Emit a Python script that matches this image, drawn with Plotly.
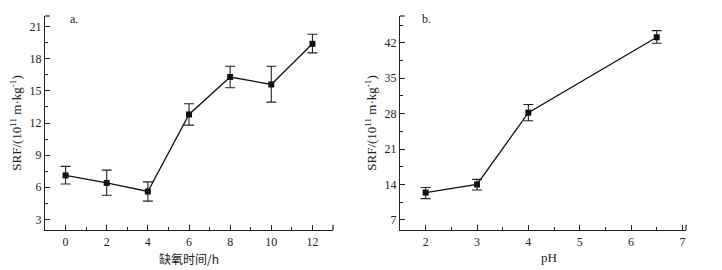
import plotly.graph_objects as go

# Panel a: hypoxia time vs SRF
time_h = [0, 2, 4, 6, 8, 10, 12]
srf_a = [7.1, 6.4, 5.6, 12.8, 16.3, 15.6, 19.4]
err_a_plus = [0.85, 1.2, 0.9, 1.0, 1.0, 1.7, 0.9]
err_a_minus = [0.8, 1.15, 0.9, 1.0, 1.0, 1.65, 0.85]

# Panel b: pH vs SRF
ph = [2, 3, 4, 6.5]
srf_b = [12.4, 14.0, 28.2, 43.1]
err_b_plus = [1.0, 1.0, 1.6, 1.3]
err_b_minus = [1.2, 1.1, 1.6, 1.2]

font_family = "Liberation Serif, Times New Roman, serif"
ink = "#222222"

fig = go.Figure()

def add_series(x, y, ep, em, xa, ya):
    fig.add_trace(go.Scatter(
        x=x, y=y, mode="lines+markers",
        line=dict(color="#111111", width=1.3),
        marker=dict(symbol="square", size=6, color="#111111"),
        error_y=dict(type="data", symmetric=False, array=ep, arrayminus=em,
                     color="#222222", thickness=1.1, width=5),
        xaxis=xa, yaxis=ya, showlegend=False, cliponaxis=False,
    ))

add_series(time_h, srf_a, err_a_plus, err_a_minus, "x", "y")
add_series(ph, srf_b, err_b_plus, err_b_minus, "x2", "y2")

W, H = 722, 270
ydom = [1 - 230 / H, 1 - 16 / H]

common_axis = dict(
    showline=True, linecolor=ink, linewidth=1.3, showgrid=False, zeroline=False,
    ticks="inside", ticklen=5, tickwidth=1.2, tickcolor=ink,
    tickfont=dict(family=font_family, size=12, color=ink),
    mirror=False,
)

ytitle = "SRF/(10<sup>11</sup> m·kg<sup>-1</sup>)"

fig.update_layout(
    width=W, height=H,
    margin=dict(l=0, r=0, t=0, b=0),
    paper_bgcolor="white", plot_bgcolor="white",
    font=dict(family=font_family, color=ink),
    xaxis=dict(domain=[45 / W, 333 / W], range=[-1, 13], tickvals=[0, 2, 4, 6, 8, 10, 12],
               minor=dict(ticks="inside", ticklen=3, tickwidth=1, tickcolor=ink, dtick=1, tick0=0),
               anchor="y", **common_axis),
    yaxis=dict(domain=ydom, range=[2, 22], tickvals=[3, 6, 9, 12, 15, 18, 21],
               minor=dict(ticks="inside", ticklen=3, tickwidth=1, tickcolor=ink, dtick=1.5, tick0=0),
               title=dict(text=ytitle, font=dict(family=font_family, size=13, color=ink), standoff=4),
               anchor="x", **common_axis),
    xaxis2=dict(domain=[400 / W, 686 / W], range=[1.5, 7.07], tickvals=[2, 3, 4, 5, 6, 7],
                minor=dict(ticks="inside", ticklen=3, tickwidth=1, tickcolor=ink, dtick=0.5, tick0=0),
                anchor="y2", **common_axis),
    yaxis2=dict(domain=ydom, range=[5, 47.3], tickvals=[7, 14, 21, 28, 35, 42],
                minor=dict(ticks="inside", ticklen=3, tickwidth=1, tickcolor=ink, dtick=3.5, tick0=0),
                title=dict(text=ytitle, font=dict(family=font_family, size=13, color=ink), standoff=4),
                anchor="x2", **common_axis),
    annotations=[
        dict(text="a.", xref="paper", yref="paper", x=68 / W, y=1 - 19 / H, showarrow=False,
             xanchor="left", yanchor="middle", font=dict(family=font_family, size=12, color=ink)),
        dict(text="b.", xref="paper", yref="paper", x=420 / W, y=1 - 19 / H, showarrow=False,
             xanchor="left", yanchor="middle", font=dict(family=font_family, size=12, color=ink)),
        dict(text="缺氧时间/h", xref="paper", yref="paper", x=189 / W, y=1 - 258 / H, showarrow=False,
             xanchor="center", yanchor="middle",
             font=dict(family="Noto Sans CJK SC, " + font_family, size=12, color=ink)),
        dict(text="pH", xref="paper", yref="paper", x=549 / W, y=1 - 257 / H, showarrow=False,
             xanchor="center", yanchor="middle", font=dict(family=font_family, size=13, color=ink)),
    ],
    shapes=[
        # end caps on axes
        dict(type="line", xref="x domain", yref="y domain", x0=0, x1=0.017, y0=1, y1=1, line=dict(color=ink, width=1.2)),
        dict(type="line", xref="x domain", yref="y domain", x0=1, x1=1, y0=0, y1=0.025, line=dict(color=ink, width=1.2)),
        dict(type="line", xref="x2 domain", yref="y2 domain", x0=0, x1=0.017, y0=1, y1=1, line=dict(color=ink, width=1.2)),
        dict(type="line", xref="x2 domain", yref="y2 domain", x0=1, x1=1, y0=0, y1=0.025, line=dict(color=ink, width=1.2)),
    ],
)

fig.write_html("out.html", config={"displayModeBar": False},
               post_script="document.body.style.margin='0';document.body.style.padding='0';")
